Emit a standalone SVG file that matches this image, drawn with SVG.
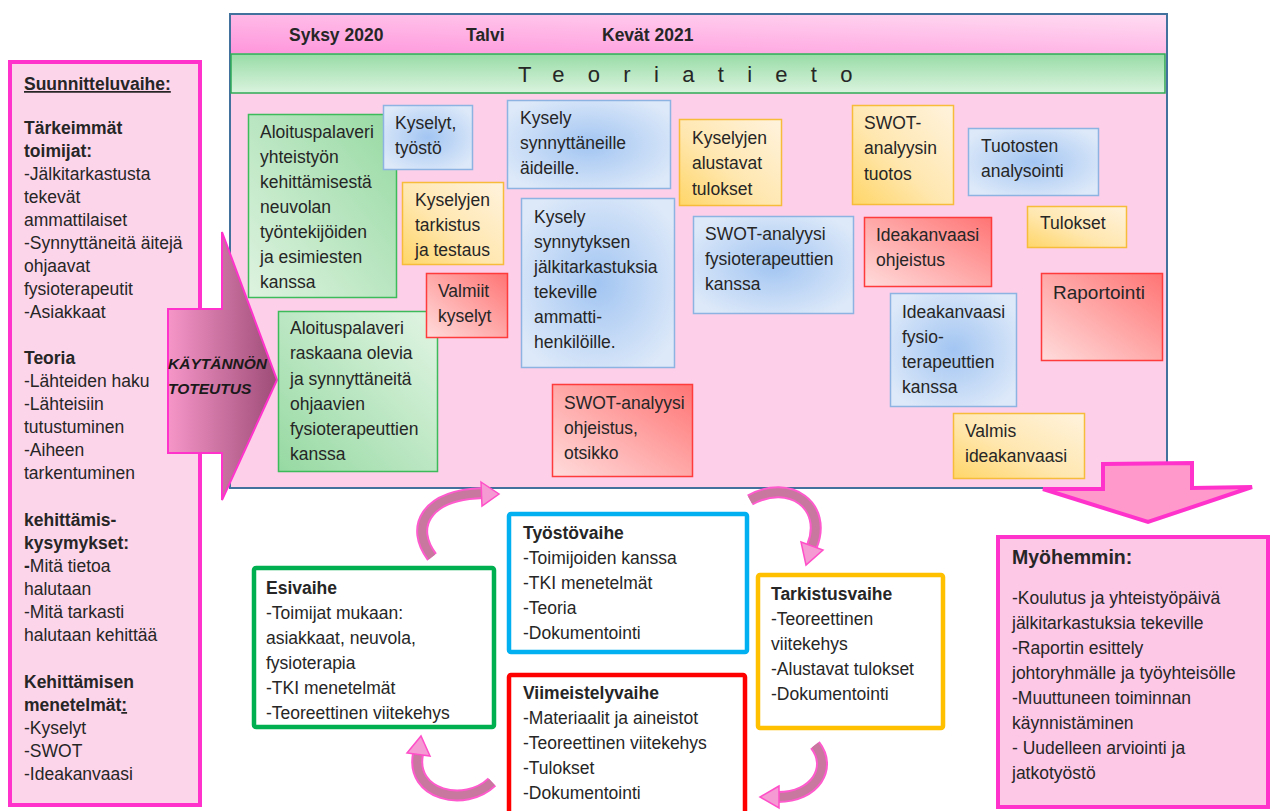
<svg xmlns="http://www.w3.org/2000/svg" width="1271" height="811" viewBox="0 0 1271 811">
<defs>
<linearGradient id="gHead" x1="0" y1="1" x2="1" y2="0"><stop offset="0" stop-color="#ff96dc"/><stop offset="1" stop-color="#ffdcf2"/></linearGradient>
<linearGradient id="gBand" x1="0" y1="0" x2="0" y2="1"><stop offset="0" stop-color="#98dca6"/><stop offset="1" stop-color="#daf3de"/></linearGradient>
<linearGradient id="gGreenA" x1="0" y1="1" x2="1" y2="0"><stop offset="0" stop-color="#def3e0"/><stop offset="1" stop-color="#96d9a2"/></linearGradient>
<linearGradient id="gGreenB" x1="1" y1="0" x2="0" y2="1"><stop offset="0" stop-color="#e2f5e4"/><stop offset="1" stop-color="#96d9a2"/></linearGradient>
<linearGradient id="gOrange" x1="1" y1="0" x2="0" y2="1"><stop offset="0" stop-color="#fff3de"/><stop offset="0.55" stop-color="#ffe7b0"/><stop offset="1" stop-color="#ffd668"/></linearGradient>
<linearGradient id="gRed" x1="1" y1="0" x2="0" y2="1"><stop offset="0" stop-color="#ff7474"/><stop offset="1" stop-color="#ffdcdc"/></linearGradient>
<radialGradient id="gBlue" cx="0.5" cy="0.5" r="0.6"><stop offset="0" stop-color="#a2c5f2"/><stop offset="1" stop-color="#dde9f9"/></radialGradient>
<linearGradient id="gBig" x1="0" y1="0" x2="1" y2="0"><stop offset="0" stop-color="#f696c8"/><stop offset="1" stop-color="#9e4c78"/></linearGradient>
</defs>
<style>
text{font-family:"Liberation Sans",Arial,sans-serif;fill:#262626;font-size:17.5px}
.b{font-weight:bold}
.nt{stroke-width:1.5}
.green{stroke:#3dbb5a}
.blue{fill:url(#gBlue);stroke:#8db3e2}
.orange{fill:url(#gOrange);stroke:#f7bd3a}
.red{fill:url(#gRed);stroke:#ff3b3b}
.phase{fill:#ffffff;stroke-width:4.5}
.caO{fill:none;stroke:#ff5acd;stroke-width:12}
.caI{fill:none;stroke:#c8789f;stroke-width:8}
.caH{fill:#f59ad2;stroke:#ff4ec8;stroke-width:1.5}
</style>

<g id="planning">
<rect x="10" y="62" width="190" height="743" fill="#fdd5ea" stroke="#ff33cc" stroke-width="4"/>
<text x="24" y="90" class="b" text-decoration="underline">Suunnitteluvaihe:</text>
<text x="24" y="134" class="b">Tärkeimmät</text>
<text x="24" y="157" class="b">toimijat:</text>
<text x="24" y="180">-Jälkitarkastusta</text>
<text x="24" y="203">tekevät</text>
<text x="24" y="226">ammattilaiset</text>
<text x="24" y="249">-Synnyttäneitä äitejä</text>
<text x="24" y="272">ohjaavat</text>
<text x="24" y="295">fysioterapeutit</text>
<text x="24" y="318">-Asiakkaat</text>
<text x="24" y="364" class="b">Teoria</text>
<text x="24" y="387">-Lähteiden haku</text>
<text x="24" y="410">-Lähteisiin</text>
<text x="24" y="433">tutustuminen</text>
<text x="24" y="456">-Aiheen</text>
<text x="24" y="479">tarkentuminen</text>
<text x="24" y="526" class="b">kehittämis-</text>
<text x="24" y="549" class="b">kysymykset:</text>
<text x="24" y="572"><tspan class="b">-</tspan>Mitä tietoa</text>
<text x="24" y="595">halutaan</text>
<text x="24" y="618">-Mitä tarkasti</text>
<text x="24" y="641">halutaan kehittää</text>
<text x="24" y="688" class="b">Kehittämisen</text>
<text x="24" y="711" class="b">menetelmät<tspan text-decoration="underline">:</tspan></text>
<text x="24" y="734">-Kyselyt</text>
<text x="24" y="757">-SWOT</text>
<text x="24" y="780">-Ideakanvaasi</text>
</g>

<g id="timeline">
<rect x="230" y="14" width="937" height="474" fill="#fdcfe8" stroke="#41719c" stroke-width="2"/>
<rect x="231" y="15" width="935" height="38" fill="url(#gHead)"/>
<text x="289" y="41" class="b">Syksy 2020</text>
<text x="466" y="41" class="b">Talvi</text>
<text x="602" y="41" class="b">Kevät 2021</text>
<rect x="231" y="54" width="934" height="39" fill="url(#gBand)" stroke="#2eaa55" stroke-width="1.5"/>
<text x="518" y="82" style="font-size:22px;letter-spacing:23.3px">Teoriatieto</text>
</g>

<g id="practice-arrow">
<polygon points="168,309 222,309 222,232 277,380 222,500 222,453 168,453" fill="url(#gBig)" stroke="#ff33cc" stroke-width="2"/>
<text x="168" y="369" class="b" style="font-style:italic;font-size:15.5px;fill:#1a1a1a">KÄYTÄNNÖN</text>
<text x="168" y="394" class="b" style="font-style:italic;font-size:15.5px;fill:#1a1a1a">TOTEUTUS</text>
</g>

<g id="note-aloitus1">
<rect x="248.5" y="114.5" width="148" height="183" fill="url(#gGreenA)" class="nt green"/>
<text x="260" y="138">Aloituspalaveri</text>
<text x="260" y="163">yhteistyön</text>
<text x="260" y="188">kehittämisestä</text>
<text x="260" y="213">neuvolan</text>
<text x="260" y="238">työntekijöiden</text>
<text x="260" y="263">ja esimiesten</text>
<text x="260" y="288">kanssa</text>
</g>
<g id="note-kyselyt-tyosto">
<rect x="383.5" y="105.5" width="89" height="64" class="nt blue"/>
<text x="395" y="129">Kyselyt,</text>
<text x="395" y="154">työstö</text>
</g>
<g id="note-tarkistus">
<rect x="402.5" y="182.5" width="101" height="82" class="nt orange"/>
<text x="415" y="206">Kyselyjen</text>
<text x="415" y="231">tarkistus</text>
<text x="415" y="256">ja testaus</text>
</g>
<g id="note-aloitus2">
<rect x="278.5" y="311.5" width="159" height="160" fill="url(#gGreenB)" class="nt green"/>
<text x="290" y="334">Aloituspalaveri</text>
<text x="290" y="359">raskaana olevia</text>
<text x="290" y="385">ja synnyttäneitä</text>
<text x="290" y="410">ohjaavien</text>
<text x="290" y="435">fysioterapeuttien</text>
<text x="290" y="460">kanssa</text>
</g>
<g id="note-valmiit">
<rect x="426.5" y="273.5" width="81" height="64" class="nt red"/>
<text x="438" y="297">Valmiit</text>
<text x="438" y="322">kyselyt</text>
</g>
<g id="note-kysely-aideille">
<rect x="507.5" y="100.5" width="163" height="88" class="nt blue"/>
<text x="520" y="124">Kysely</text>
<text x="520" y="149">synnyttäneille</text>
<text x="520" y="174">äideille.</text>
</g>
<g id="note-alustavat">
<rect x="679.5" y="119.5" width="102" height="86" class="nt orange"/>
<text x="692" y="144">Kyselyjen</text>
<text x="692" y="169">alustavat</text>
<text x="692" y="195">tulokset</text>
</g>
<g id="note-kysely-ammatti">
<rect x="521.5" y="198.5" width="153" height="169" class="nt blue"/>
<text x="534" y="223">Kysely</text>
<text x="534" y="248">synnytyksen</text>
<text x="534" y="273">jälkitarkastuksia</text>
<text x="534" y="298">tekeville</text>
<text x="534" y="323">ammatti-</text>
<text x="534" y="348">henkilöille.</text>
</g>
<g id="note-swot-fysio">
<rect x="693.5" y="216.5" width="160" height="97" class="nt blue"/>
<text x="705" y="240">SWOT-analyysi</text>
<text x="705" y="265">fysioterapeuttien</text>
<text x="705" y="290">kanssa</text>
</g>
<g id="note-swot-ohjeistus">
<rect x="552.5" y="384.5" width="140" height="92" class="nt red"/>
<text x="564" y="409">SWOT-analyysi</text>
<text x="564" y="434">ohjeistus,</text>
<text x="564" y="459">otsikko</text>
</g>
<g id="note-swot-tuotos">
<rect x="852.5" y="105.5" width="101" height="99" class="nt orange"/>
<text x="864" y="129">SWOT-</text>
<text x="864" y="154">analyysin</text>
<text x="864" y="180">tuotos</text>
</g>
<g id="note-tuotosten">
<rect x="968.5" y="128.5" width="130" height="67" class="nt blue"/>
<text x="981" y="152">Tuotosten</text>
<text x="981" y="177">analysointi</text>
</g>
<g id="note-tulokset">
<rect x="1027.5" y="206.5" width="99" height="41" class="nt orange"/>
<text x="1040" y="229">Tulokset</text>
</g>
<g id="note-idea-ohjeistus">
<rect x="864.5" y="217.5" width="127" height="69" class="nt red"/>
<text x="876" y="241">Ideakanvaasi</text>
<text x="876" y="266">ohjeistus</text>
</g>
<g id="note-raportointi">
<rect x="1041.5" y="273.5" width="121" height="87" class="nt red"/>
<text x="1053" y="299" style="font-size:19px">Raportointi</text>
</g>
<g id="note-idea-fysio">
<rect x="890.5" y="293.5" width="126" height="113" class="nt blue"/>
<text x="902" y="318">Ideakanvaasi</text>
<text x="902" y="343">fysio-</text>
<text x="902" y="368">terapeuttien</text>
<text x="902" y="393">kanssa</text>
</g>
<g id="note-valmis-idea">
<rect x="953.5" y="413.5" width="131" height="65" class="nt orange"/>
<text x="965" y="437">Valmis</text>
<text x="965" y="462">ideakanvaasi</text>
</g>

<g id="later-arrow">
<polygon points="1103,464 1192,463 1192,488 1252,487 1148,522 1043,489 1103,489" fill="#ff99cc" stroke="#ff33cc" stroke-width="4" stroke-linejoin="miter"/>
</g>

<g id="esivaihe">
<rect x="254" y="568" width="240" height="159" rx="2" class="phase" stroke="#00b050"/>
<text x="266" y="594" class="b">Esivaihe</text>
<text x="266" y="619">-Toimijat mukaan:</text>
<text x="266" y="644">asiakkaat, neuvola,</text>
<text x="266" y="669">fysioterapia</text>
<text x="266" y="694">-TKI menetelmät</text>
<text x="266" y="719">-Teoreettinen viitekehys</text>
</g>
<g id="tyostovaihe">
<rect x="509" y="514" width="238" height="138" rx="2" class="phase" stroke="#00b0f0"/>
<text x="523" y="539" class="b">Työstövaihe</text>
<text x="523" y="564">-Toimijoiden kanssa</text>
<text x="523" y="589">-TKI menetelmät</text>
<text x="523" y="614">-Teoria</text>
<text x="523" y="639">-Dokumentointi</text>
</g>
<g id="viimeistelyvaihe">
<rect x="509" y="675" width="236" height="150" rx="2" class="phase" stroke="#ff0000"/>
<text x="523" y="699" class="b">Viimeistelyvaihe</text>
<text x="523" y="724">-Materiaalit ja aineistot</text>
<text x="523" y="749">-Teoreettinen viitekehys</text>
<text x="523" y="774">-Tulokset</text>
<text x="523" y="799">-Dokumentointi</text>
</g>
<g id="tarkistusvaihe">
<rect x="758" y="575" width="185" height="153" rx="2" class="phase" stroke="#ffc000"/>
<text x="771" y="600" class="b">Tarkistusvaihe</text>
<text x="771" y="625">-Teoreettinen</text>
<text x="771" y="650">viitekehys</text>
<text x="771" y="675">-Alustavat tulokset</text>
<text x="771" y="700">-Dokumentointi</text>
</g>
<g id="myohemmin">
<rect x="998" y="537" width="270" height="270" fill="#fdc8e6" stroke="#ff33cc" stroke-width="4"/>
<text x="1012" y="564" class="b" style="font-size:19.5px">Myöhemmin:</text>
<text x="1012" y="604">-Koulutus ja yhteistyöpäivä</text>
<text x="1012" y="629">jälkitarkastuksia tekeville</text>
<text x="1012" y="654">-Raportin esittely</text>
<text x="1012" y="679">johtoryhmälle ja työyhteisölle</text>
<text x="1012" y="704">-Muuttuneen toiminnan</text>
<text x="1012" y="729">käynnistäminen</text>
<text x="1012" y="754">- Uudelleen arviointi ja</text>
<text x="1012" y="779">jatkotyöstö</text>
</g>

<g id="connectors">
<path class="caO" d="M432,557 C410,528 424,495 483,493"/>
<path class="caI" d="M432,557 C410,528 424,495 483,493"/>
<polygon class="caH" points="481,482 499,494 482,506"/>
<path class="caO" d="M750,500 C790,478 828,506 812,546"/>
<path class="caI" d="M750,500 C790,478 828,506 812,546"/>
<polygon class="caH" points="801,542 823,550 806,565"/>
<path class="caO" d="M815,745 C833,768 815,797 778,797"/>
<path class="caI" d="M815,745 C833,768 815,797 778,797"/>
<polygon class="caH" points="779,786 760,797 779,808"/>
<path class="caO" d="M492,782 C465,808 410,795 418,754"/>
<path class="caI" d="M492,782 C465,808 410,795 418,754"/>
<polygon class="caH" points="407,753 421,736 430,756"/>
</g>
</svg>
